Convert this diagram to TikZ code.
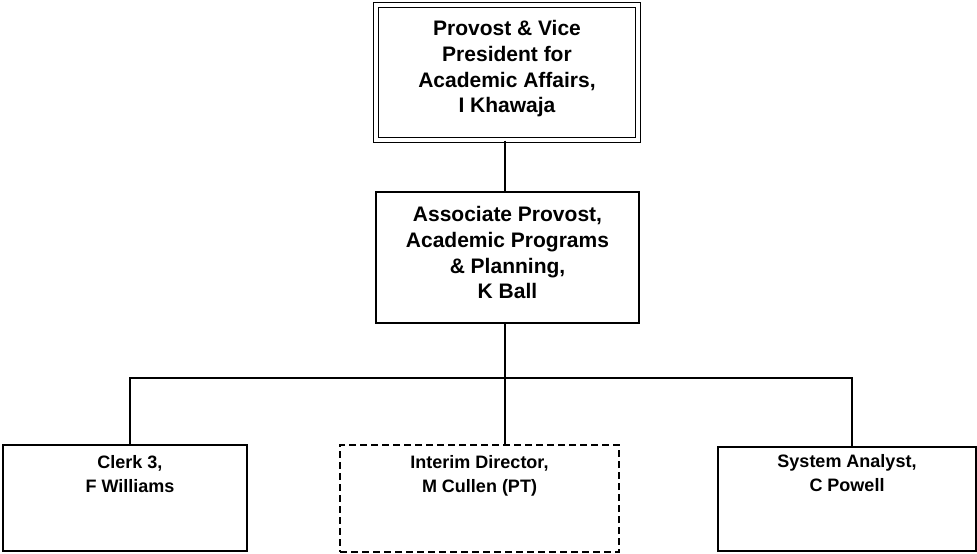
\documentclass[tikz,border=0pt]{standalone}
\usepackage{fontspec}
\setmainfont{Liberation Sans}
\usepackage{tikz}
\begin{document}
\begin{tikzpicture}[x=1pt,y=-1pt,line width=1.5pt,
  box/.style={draw=black,rectangle,inner sep=0pt},
  head/.style={font=\fontsize{21}{25.7}\selectfont\bfseries,align=center,inner sep=0pt,anchor=north},
  staff/.style={font=\fontsize{18}{24}\selectfont\bfseries,align=center,inner sep=0pt,anchor=north}]
\useasboundingbox (0,0) rectangle (977,554);
\node [box,line width=1.3pt,double,double distance=3.5pt,minimum width=262pt,minimum height=135pt] (provost) at (507,72.5) {};
\node [head,yshift=-15.5pt] (provosttxt) at (provost.north) {Provost \& Vice\\President for\\Academic Affairs,\\I Khawaja};
\node [box,minimum width=263pt,minimum height=131pt] (assoc) at (507.5,257.5) {};
\node [head,yshift=-14.5pt] (assoctxt) at (assoc.north) {Associate Provost,\\Academic Programs\\\& Planning,\\K Ball};
\node [box,minimum width=244pt,minimum height=106pt] (clerk) at (125,498) {};
\node [staff,yshift=-10pt,xshift=5pt] (clerktxt) at (clerk.north) {Clerk 3,\\F Williams};
\node [box,dash pattern=on 7pt off 4pt,minimum width=279pt,minimum height=107pt] (interim) at (479.5,498.5) {};
\node [staff,yshift=-10pt] (interimtxt) at (interim.north) {Interim Director,\\M Cullen (PT)};
\node [box,minimum width=258pt,minimum height=104pt] (analyst) at (847,499) {};
\node [staff,yshift=-7pt] (analysttxt) at (analyst.north) {System Analyst,\\C Powell};
\coordinate (busL) at (130,378);
\coordinate (trunk) at (505,378);
\coordinate (busR) at (852,378);
\draw (provost.south -| trunk) -- (assoc.north -| trunk);
\draw (assoc.south -| trunk) -- (interim.north -| trunk);
\draw (busL |- clerk.north) -- (busL) -- (busR) -- (busR |- analyst.north);
\end{tikzpicture}
\end{document}
